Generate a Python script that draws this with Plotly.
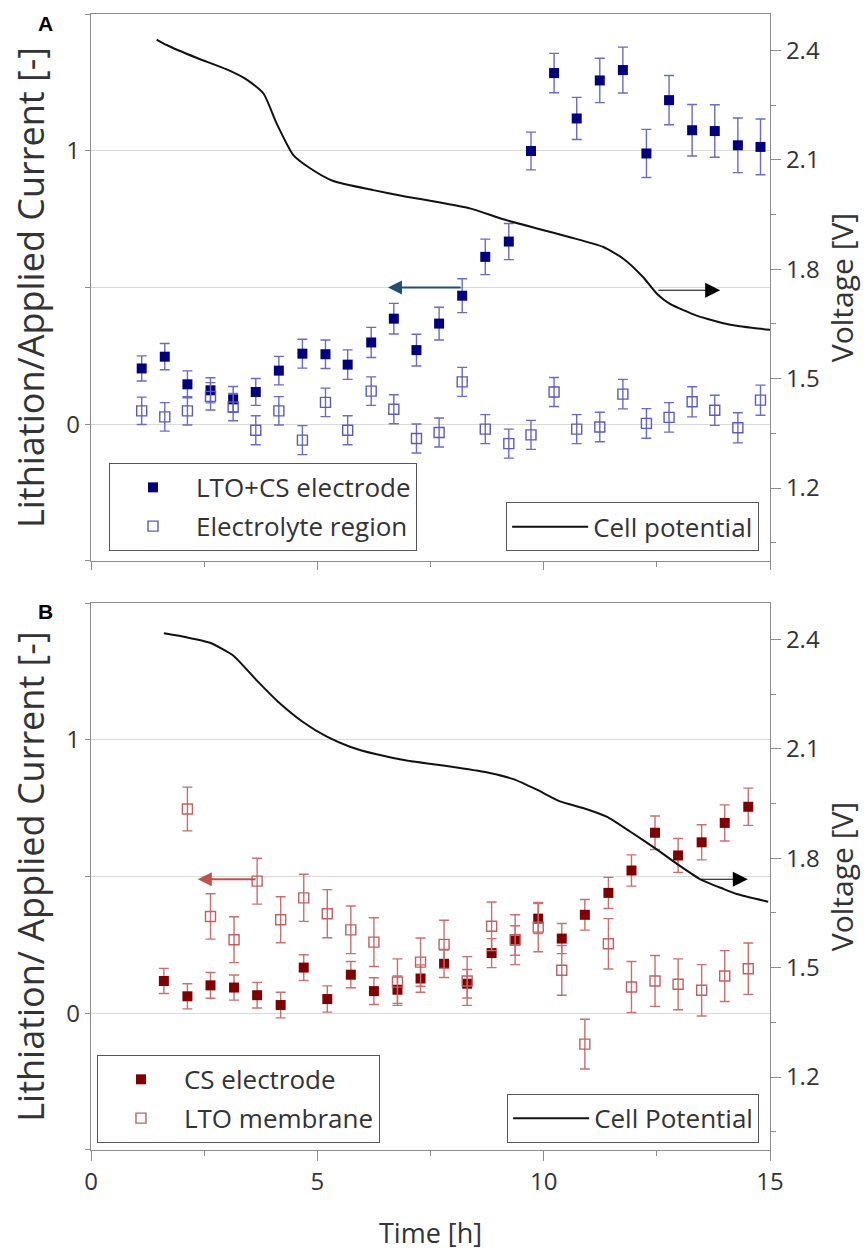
import plotly.graph_objects as go

# ---------------- Panel A data ----------------
tA = [1.12, 1.63, 2.13, 2.64, 3.14, 3.64, 4.15, 4.67, 5.18, 5.67, 6.19, 6.69, 7.19, 7.69,
      8.20, 8.71, 9.23, 9.72, 10.23, 10.73, 11.24, 11.75, 12.27, 12.77, 13.28, 13.78, 14.29, 14.79]
electrodeA = [0.204, 0.247, 0.146, 0.124, 0.091, 0.118, 0.196, 0.258, 0.256, 0.218, 0.299, 0.386,
              0.271, 0.368, 0.47, 0.612, 0.668, 0.999, 1.284, 1.118, 1.257, 1.295, 0.99, 1.185,
              1.075, 1.072, 1.02, 1.014]
electrodeA_err = [0.046, 0.048, 0.049, 0.046, 0.047, 0.049, 0.052, 0.053, 0.052, 0.054, 0.055, 0.056,
                  0.058, 0.06, 0.062, 0.065, 0.066, 0.069, 0.072, 0.077, 0.081, 0.084, 0.088, 0.09,
                  0.094, 0.096, 0.1, 0.102]
electrolyteA = [0.049, 0.027, 0.049, 0.102, 0.063, -0.022, 0.049, -0.058, 0.08, -0.022, 0.121, 0.055,
                -0.052, -0.03, 0.155, -0.018, -0.071, -0.039, 0.118, -0.018, -0.01, 0.11, 0.003,
                0.025, 0.082, 0.051, -0.013, 0.088]
electrolyteA_err = [0.05, 0.052, 0.052, 0.05, 0.05, 0.053, 0.052, 0.053, 0.052, 0.053, 0.052, 0.053,
                    0.053, 0.053, 0.053, 0.053, 0.053, 0.053, 0.053, 0.053, 0.054, 0.054, 0.054,
                    0.054, 0.055, 0.055, 0.055, 0.055]
tVA = [1.45, 1.67, 2.33, 3.0, 3.44, 3.81, 4.1, 4.47, 4.84, 5.35, 6.24, 6.97, 7.71, 8.37, 9.11,
       9.85, 10.58, 11.32, 11.76, 12.2, 12.5, 12.79, 13.38, 14.12, 15.0]
VA = [2.43, 2.415, 2.38, 2.348, 2.32, 2.282, 2.2, 2.113, 2.077, 2.042, 2.017, 1.999, 1.983, 1.967,
      1.937, 1.912, 1.888, 1.861, 1.829, 1.778, 1.733, 1.705, 1.673, 1.648, 1.634]

# ---------------- Panel B data ----------------
tB = [1.61, 2.13, 2.64, 3.16, 3.67, 4.19, 4.70, 5.22, 5.74, 6.25, 6.77, 7.28, 7.80, 8.31, 8.85,
      9.37, 9.88, 10.40, 10.91, 11.43, 11.94, 12.46, 12.97, 13.49, 14.00, 14.52]
csB = [0.118, 0.062, 0.102, 0.094, 0.066, 0.03, 0.167, 0.052, 0.141, 0.081, 0.086, 0.127, 0.181,
       0.108, 0.22, 0.266, 0.346, 0.273, 0.36, 0.44, 0.522, 0.66, 0.577, 0.625, 0.696, 0.755]
csB_err = [0.046, 0.046, 0.047, 0.046, 0.047, 0.047, 0.047, 0.048, 0.048, 0.049, 0.05, 0.05, 0.05,
           0.052, 0.053, 0.054, 0.055, 0.055, 0.056, 0.057, 0.057, 0.061, 0.062, 0.064, 0.066, 0.068]
tB_mem = tB[1:]
membraneB = [0.747, 0.354, 0.269, 0.483, 0.342, 0.422, 0.364, 0.305, 0.26, 0.114, 0.187, 0.252,
             0.118, 0.318, 0.269, 0.315, 0.157, -0.113, 0.254, 0.096, 0.118, 0.106, 0.084, 0.136, 0.163]
membraneB_err = [0.08, 0.083, 0.084, 0.084, 0.084, 0.086, 0.088, 0.087, 0.089, 0.085, 0.088, 0.088,
                 0.089, 0.089, 0.091, 0.09, 0.091, 0.091, 0.092, 0.093, 0.093, 0.093, 0.094, 0.093, 0.094]
tVB = [1.61, 2.11, 2.63, 3.14, 3.66, 4.17, 4.69, 5.2, 5.72, 6.31, 6.97, 7.56, 8.08, 8.81, 9.33,
       9.85, 10.36, 10.87, 11.39, 11.9, 12.49, 13.01, 13.45, 13.97, 14.26, 14.96]
VB = [2.417, 2.406, 2.391, 2.356, 2.288, 2.225, 2.173, 2.134, 2.106, 2.085, 2.068, 2.058, 2.049,
      2.034, 2.017, 1.988, 1.956, 1.938, 1.914, 1.874, 1.825, 1.779, 1.743, 1.716, 1.702, 1.681]

x_ticks = [0, 5, 10, 15]
left_ticks = [-0.5, 0, 0.5, 1, 1.5]
left_labels = ["", "0", "", "1", ""]
right_ticks = [1.2, 1.5, 1.8, 2.1, 2.4]

FONT = "Open Sans, Segoe UI, sans-serif"
TXT = "#333333"
AXC = "#8c8c8c"
NAVY = "#00007f"
BLUE_ERR = "#6a6ac8"
DRED = "#7f0000"
RED_ERR = "#c87070"

fig = go.Figure()

def err(arr, color):
    return dict(type="data", array=arr, visible=True, color=color, thickness=1.4, width=5)

# Panel A
fig.add_trace(go.Scatter(x=tA, y=electrodeA, mode="markers", name="LTO+CS electrode",
                         marker=dict(symbol="square", size=10, color=NAVY),
                         error_y=err(electrodeA_err, BLUE_ERR), xaxis="x", yaxis="y",
                         legend="legend", legendgroup="a1"))
fig.add_trace(go.Scatter(x=tA, y=electrolyteA, mode="markers", name="Electrolyte region",
                         marker=dict(symbol="square-open", size=10, color="#5a5ac0", line=dict(width=1.4)),
                         error_y=err(electrolyteA_err, BLUE_ERR), xaxis="x", yaxis="y",
                         legend="legend", legendgroup="a2"))
fig.add_trace(go.Scatter(x=tVA, y=VA, mode="lines", name="Cell potential",
                         line=dict(color="#111111", width=2, shape="spline", smoothing=0.6),
                         xaxis="x", yaxis="y2", legend="legend2"))

# Panel B
fig.add_trace(go.Scatter(x=tB, y=csB, mode="markers", name="CS electrode",
                         marker=dict(symbol="square", size=10, color=DRED),
                         error_y=err(csB_err, RED_ERR), xaxis="x2", yaxis="y3",
                         legend="legend3", legendgroup="b1"))
fig.add_trace(go.Scatter(x=tB_mem, y=membraneB, mode="markers", name="LTO membrane",
                         marker=dict(symbol="square-open", size=10, color="#c06060", line=dict(width=1.4)),
                         error_y=err(membraneB_err, RED_ERR), xaxis="x2", yaxis="y3",
                         legend="legend3", legendgroup="b2"))
fig.add_trace(go.Scatter(x=tVB, y=VB, mode="lines", name="Cell Potential",
                         line=dict(color="#111111", width=2, shape="spline", smoothing=0.5),
                         xaxis="x2", yaxis="y4", legend="legend4"))

yA = [0.5185, 1.0]
yB = [0.0, 0.4815]

common_x = dict(range=[0, 15], tickvals=x_ticks, ticks="outside", showline=True, linecolor=AXC,
                linewidth=1.2, mirror=True, showgrid=False, zeroline=False, tickcolor=AXC,
                automargin=False,
                minor=dict(dtick=2.5, ticks="outside", ticklen=5, tickcolor=AXC))
left_y = dict(range=[-0.5, 1.5], tickvals=left_ticks, ticktext=left_labels, ticks="outside",
              ticklen=5, tickcolor=AXC, showline=True, linecolor=AXC, linewidth=1.2, mirror=True,
              showgrid=True, gridcolor="#d9d9d9", gridwidth=1, zeroline=False, automargin=False,
              tickfont=dict(size=24, color=TXT))
right_y = dict(range=[1.0, 2.5], tickvals=right_ticks, ticks="outside", ticklen=10, tickcolor=AXC,
               showline=True, linecolor=AXC, linewidth=1.2, showgrid=False, zeroline=False,
               side="right", tickformat=".1f", tickfont=dict(size=24, color=TXT), automargin=False,
               minor=dict(dtick=0.15, tick0=1.05, ticks="outside", ticklen=5, tickcolor=AXC))

leg_common = dict(bgcolor="white", bordercolor="#555555", borderwidth=1,
                  font=dict(size=26, color=TXT, family=FONT), tracegroupgap=2, itemwidth=76)

LEFT_TITLE = 36
RIGHT_TITLE = 30

fig.update_layout(
    width=868, height=1252,
    margin=dict(l=91, r=98, t=14, b=102, autoexpand=False),
    paper_bgcolor="white", plot_bgcolor="white",
    font=dict(family=FONT, size=24, color=TXT),
    xaxis=dict(**common_x, anchor="y", showticklabels=False, ticklen=8),
    xaxis2=dict(**common_x, anchor="y3", showticklabels=True, ticklen=10,
                tickfont=dict(size=24, color=TXT)),
    yaxis=dict(**left_y, domain=yA, anchor="x",
               title=dict(text="Lithiation/Applied Current [-]", font=dict(size=LEFT_TITLE, color=TXT), standoff=10)),
    yaxis2=dict(**right_y, overlaying="y", anchor="x",
                title=dict(text="Voltage [V]", font=dict(size=RIGHT_TITLE, color=TXT), standoff=13)),
    yaxis3=dict(**left_y, domain=yB, anchor="x2",
                title=dict(text="Lithiation/ Applied Current [-]", font=dict(size=LEFT_TITLE, color=TXT), standoff=10)),
    yaxis4=dict(**right_y, overlaying="y3", anchor="x2",
                title=dict(text="Voltage [V]", font=dict(size=RIGHT_TITLE, color=TXT), standoff=13)),
    legend=dict(**leg_common, x=0.0265, y=0.6048, xanchor="left", yanchor="top"),
    legend2=dict(**leg_common, x=0.984, y=0.527, xanchor="right", yanchor="bottom"),
    legend3=dict(**leg_common, x=0.0088, y=0.0837, xanchor="left", yanchor="top"),
    legend4=dict(**leg_common, x=0.984, y=0.0062, xanchor="right", yanchor="bottom"),
    showlegend=True,
)

# x-axis title
fig.add_annotation(x=0.5, y=-0.0725, xref="paper", yref="paper", text="Time [h]", showarrow=False,
                   xanchor="center", yanchor="middle", font=dict(size=27, color=TXT, family=FONT))

# Direction arrows (tip x, tail x, y level)
arrows = [
    dict(x=6.56, ax=8.2, y=0.5, xref="x", yref="y", color="#1f4e79", w=2, s=1.4),
    dict(x=13.9, ax=12.5, y=0.49, xref="x", yref="y", color="black", w=1, s=3),
    dict(x=2.36, ax=3.67, y=0.49, xref="x2", yref="y3", color="#c0504d", w=2, s=1.4),
    dict(x=14.51, ax=13.45, y=0.49, xref="x2", yref="y3", color="black", w=1, s=3),
]
for a in arrows:
    fig.add_annotation(x=a["x"], y=a["y"], ax=a["ax"], ay=a["y"], xref=a["xref"], yref=a["yref"],
                       axref=a["xref"], ayref=a["yref"], showarrow=True, arrowhead=2,
                       arrowsize=a["s"], arrowwidth=a["w"], arrowcolor=a["color"], text="")

fig.add_annotation(x=-0.0677, y=0.9912, xref="paper", yref="paper", text="<b>A</b>", showarrow=False,
                   xanchor="center", yanchor="middle",
                   font=dict(size=21, color="black", family="Liberation Sans, Arial"))
fig.add_annotation(x=-0.0677, y=0.4736, xref="paper", yref="paper", text="<b>B</b>", showarrow=False,
                   xanchor="center", yanchor="middle",
                   font=dict(size=21, color="black", family="Liberation Sans, Arial"))

fig.write_html("out.html")
